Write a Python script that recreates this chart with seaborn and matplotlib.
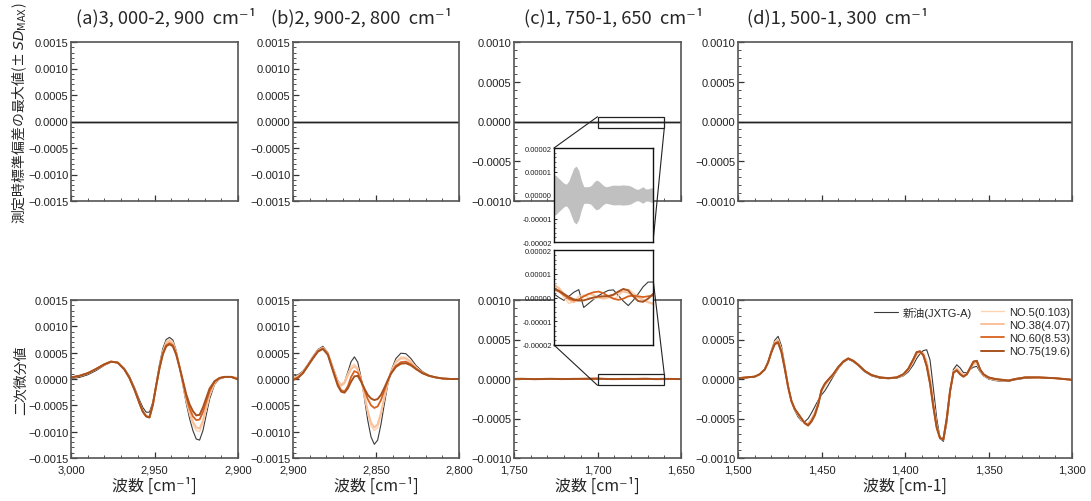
import numpy as np
import pandas as pd
import matplotlib
matplotlib.use("Agg")
import matplotlib.pyplot as plt
import seaborn as sns
from matplotlib.ticker import MultipleLocator, FuncFormatter, NullLocator
from matplotlib.patches import Rectangle, ConnectionPatch
from matplotlib.lines import Line2D

sns.set_theme(style="ticks")
plt.rcParams["font.family"] = ["Liberation Sans", "Noto Sans CJK JP", "DejaVu Sans"]
plt.rcParams["axes.unicode_minus"] = True
JP = ["Noto Sans CJK JP", "DejaVu Sans"]

# ---- series ----
SERIES = ["新油(JXTG-A)", "NO.5(0.103)", "NO.38(4.07)", "NO.60(8.53)", "NO.75(19.6)"]
COLORS = ["#3a3a3a", "#fdd3b2", "#f9c09a", "#d8621f", "#a8521f"]
WIDTHS = [0.8, 1.0, 1.4, 1.3, 1.4]

# ---- (a) 3,000-2,900 cm-1, second derivative x1e-4 ----
wn_a = [3000, 2995, 2990, 2985, 2980, 2976, 2972, 2968, 2965, 2962,
        2959, 2957, 2955, 2953, 2951, 2949, 2947, 2945, 2943, 2941,
        2939, 2937, 2935, 2933, 2931, 2929, 2927, 2925, 2923, 2921,
        2919, 2917, 2914, 2911, 2908, 2904, 2900]
a_new = [0.1, 0.3, 0.8, 1.6, 2.6, 3.2, 3.2, 2.0, 0.5, -1.6,
         -4.0, -5.4, -6.3, -6.3, -4.4, -0.9, 2.8, 5.8, 7.5, 7.9,
         7.4, 5.4, 2.3, -1.2, -4.6, -7.5, -9.8, -11.4, -11.6, -9.8,
         -6.8, -3.8, -1.0, 0.0, 0.3, 0.3, 0.1]
a_no5 = [0.25, 0.55, 1.05, 1.85, 2.75, 3.3, 3.1, 1.85, 0.25, -1.9,
         -4.5, -6.0, -6.9, -7.1, -4.9, -1.2, 2.3, 5.3, 7.1, 7.5,
         7.0, 5.2, 2.4, -0.9, -4.1, -6.7, -8.6, -9.8, -10.0, -8.4,
         -5.8, -3.2, -0.8, 0.1, 0.4, 0.4, 0.2]
a_no38 = [0.25, 0.55, 1.05, 1.85, 2.75, 3.3, 3.1, 1.85, 0.2, -1.95,
          -4.55, -6.1, -7.0, -7.2, -4.9, -1.2, 2.2, 5.1, 6.8, 7.2,
          6.7, 5.0, 2.3, -0.8, -3.9, -6.3, -8.1, -9.2, -9.4, -7.9,
          -5.4, -3.0, -0.7, 0.1, 0.4, 0.4, 0.2]
a_no60 = [0.3, 0.6, 1.1, 1.9, 2.8, 3.3, 3.1, 1.8, 0.2, -2.0,
          -4.6, -6.2, -7.1, -7.3, -4.9, -1.3, 2.1, 4.8, 6.4, 6.8,
          6.4, 4.8, 2.3, -0.5, -3.4, -5.6, -7.1, -7.8, -7.7, -6.3,
          -4.3, -2.3, -0.5, 0.2, 0.4, 0.4, 0.0]
a_no75 = [0.3, 0.6, 1.1, 1.9, 2.8, 3.3, 3.1, 1.8, 0.2, -2.0,
          -4.6, -6.2, -7.1, -7.3, -4.9, -1.3, 2.1, 4.7, 6.2, 6.6,
          6.2, 4.6, 2.2, -0.3, -2.9, -4.8, -6.1, -6.9, -6.8, -5.4,
          -3.6, -1.8, -0.4, 0.2, 0.4, 0.4, -0.1]

# ---- (b) 2,900-2,800 cm-1, x1e-4 ----
wn_b = [2900, 2897, 2894, 2891, 2888, 2885, 2882, 2879, 2876, 2873,
        2871, 2869, 2867, 2865, 2863, 2861, 2859, 2857, 2855, 2853,
        2851, 2849, 2847, 2845, 2843, 2841, 2838, 2835, 2832, 2829,
        2826, 2822, 2818, 2814, 2810, 2805, 2800]
b_new = [0.5, 0.8, 1.5, 2.8, 4.3, 5.6, 6.2, 5.0, 2.3, -0.3,
         -1.1, -0.6, 1.3, 3.3, 4.2, 3.2, 0.3, -3.6, -7.8, -11.0,
         -12.4, -11.6, -8.6, -4.8, -1.2, 1.5, 3.9, 4.9, 4.8, 3.9,
         2.6, 1.4, 0.7, 0.3, 0.1, 0.0, 0.0]
b_no5 = [0.3, 0.6, 1.4, 2.7, 4.2, 5.5, 6.0, 4.9, 2.2, -0.4,
         -1.0, -0.5, 1.0, 2.4, 2.8, 2.1, 0.0, -3.2, -6.5, -8.9,
         -9.8, -9.2, -6.8, -3.8, -0.9, 1.4, 3.4, 4.2, 4.1, 3.4,
         2.3, 1.2, 0.6, 0.3, 0.1, 0.0, 0.0]
b_no38 = [0.2, 0.5, 1.3, 2.6, 4.1, 5.4, 5.9, 4.8, 2.0, -0.6,
          -1.3, -0.8, 0.6, 1.9, 2.4, 1.8, -0.1, -3.0, -6.0, -8.3,
          -9.2, -8.6, -6.4, -3.5, -0.8, 1.3, 3.2, 3.9, 3.9, 3.2,
          2.2, 1.2, 0.6, 0.3, 0.1, 0.0, 0.0]
b_no60 = [-0.1, 0.3, 1.2, 2.6, 4.0, 5.3, 5.8, 4.7, 1.8, -1.0,
          -2.1, -2.4, -1.4, 0.4, 1.5, 1.2, -0.2, -2.0, -3.8, -5.0,
          -5.5, -5.2, -4.0, -2.2, -0.4, 1.1, 2.5, 3.2, 3.3, 2.8,
          2.0, 1.1, 0.6, 0.3, 0.1, 0.0, 0.0]
b_no75 = [-0.2, 0.2, 1.1, 2.5, 3.9, 5.2, 5.7, 4.6, 1.6, -1.3,
          -2.4, -2.6, -1.8, -0.5, 0.5, 0.6, -0.5, -1.8, -3.0, -3.7,
          -4.0, -3.8, -3.0, -1.7, -0.3, 1.0, 2.3, 2.9, 3.0, 2.6,
          1.9, 1.1, 0.6, 0.3, 0.1, 0.0, 0.0]

# ---- (c) 1,750-1,650 cm-1, x1e-6, every 2 cm-1 ----
wn_c = list(range(1750, 1648, -2))
c_new = [1, 2, 3, 3, 2, 0, -2, -3, -3, -1, 1, 2, 3, 2, 1, -1, -2, -2, -1, 0, 1, 2, 2, 2, 2,
         1.5, 0.0, -1.2, 0.5, 2.2, 3.3, -4.2, -2.5, -0.8, 0.8, 2.0, 3.0, 3.2, 0.8, -1.5,
         -3.4, -1.2, 1.5, 4.5, 6.5, 6.5,
         4, 1, -1, -2, -1]
c_no5 = [-2, -1, 0, 1, 2, 2, 1, 0, -1, -2, -2, -1, 0, 1, 2, 2, 1, 0, -1, -1, 0, 1, 2, 3, 5,
         6.5, 3.5, 0.0, -2.5, -1.5, 0.5, 1.0, 0.0, -0.5, 0.0, 0.5, 0.5, -0.5, 0.5, 3.0,
         3.5, 2.0, 0.5, -1.0, -2.0, -3.0,
         -3, -2, -1, 0, 1]
c_no38 = [-1, 0, 1, 2, 2, 1, 0, -1, -2, -2, -1, 0, 1, 2, 2, 1, 0, -1, -1, 0, 1, 2, 3, 4, 5,
          5.0, 4.0, 1.5, -1.0, -2.0, -1.0, 0.5, 1.5, 1.0, 0.0, -0.5, 0.0, 1.0, 2.0, 2.5,
          2.0, 1.0, 0.0, -1.0, -2.0, -2.5,
          -2, -1, 0, 1, 1]
c_no60 = [0, 1, 2, 2, 1, -1, -2, -2, -1, 0, 1, 2, 2, 1, 0, -1, -1, 0, 1, 1, 2, 2, 3, 3, 3,
          3.5, 2.5, 1.0, -0.5, -1.2, -0.8, 0.5, 1.5, 2.2, 2.5, 1.8, 0.5, -0.5, -1.0, -0.5,
          0.5, 0.8, 0.5, 0.2, 0.5, 0.8,
          1, 1, 0, -1, -1]
c_no75 = [1, 2, 2, 1, 0, -1, -2, -1, 0, 1, 2, 2, 1, 0, -1, -1, 0, 1, 2, 2, 2, 3, 3, 3, 4,
          3.8, 2.8, 1.5, 0.2, -0.8, -1.3, -1.2, -0.6, 0.0, 0.4, 0.5, 0.6, 1.2, 2.5, 3.6,
          3.0, 0.5, -1.5, -1.8, -0.5, 1.5,
          2, 1, 0, -1, -1]

# largest measurement SD, 1,700-1,660 cm-1, x1e-6
wn_sd = list(range(1700, 1659, -1))
sd_c = [8.7, 8.0, 7.0, 6.0, 5.0, 4.6, 6.0, 8.8, 11.5, 12.3,
        10.5, 6.5, 3.6, 3.5, 3.6, 4.0, 5.3, 6.3, 6.0, 5.0,
        4.0, 3.5, 3.7, 4.0, 4.2, 4.2, 4.1, 4.2, 4.3, 4.2,
        4.1, 3.8, 3.2, 2.6, 2.4, 3.0, 3.5, 2.6, 2.6, 3.0, 3.2]

# ---- (d) 1,500-1,300 cm-1, x1e-4 ----
wn_d = [1500, 1495, 1490, 1487, 1484, 1482, 1480, 1478, 1476, 1474,
        1472, 1470, 1468, 1466, 1464, 1462, 1460, 1458, 1456, 1454,
        1452, 1450, 1448, 1446, 1443, 1440, 1437, 1434, 1431, 1428,
        1424, 1420, 1415, 1410, 1405, 1401, 1398, 1395, 1393, 1391,
        1389, 1387, 1385, 1383, 1381, 1379, 1377, 1375, 1373, 1371,
        1369, 1367, 1365, 1363, 1361, 1359, 1357, 1355, 1353, 1350,
        1346, 1342, 1338, 1334, 1328, 1320, 1310, 1300]
d_new = [0.05, 0.15, 0.3, 0.6, 1.2, 2.1, 3.6, 4.9, 5.4, 4.2,
         1.8, -0.8, -2.8, -4.0, -4.8, -5.3, -5.4, -5.0, -4.3, -3.5,
         -2.7, -2.0, -1.5, -0.8, 0.3, 1.3, 2.1, 2.5, 2.2, 1.7,
         0.9, 0.4, 0.1, 0.05, 0.1, 0.4, 0.9, 1.8, 2.6, 3.2,
         3.6, 3.7, 2.4, -1.2, -5.0, -7.5, -7.9, -5.6, -1.8, 1.2,
         1.8, 1.4, 0.8, 0.8, 1.2, 1.5, 1.6, 0.9, 0.4, 0.0,
         -0.2, -0.3, -0.3, -0.1, 0.1, 0.2, 0.1, -0.1]
d_no5 = [0.1, 0.2, 0.3, 0.6, 1.2, 2.1, 3.5, 4.7, 5.0, 3.8,
         1.6, -0.9, -2.8, -3.9, -4.6, -5.2, -5.6, -5.6, -5.0, -4.2,
         -3.0, -1.6, -0.9, -0.3, 0.5, 1.4, 2.2, 2.6, 2.3, 1.8,
         1.0, 0.5, 0.2, 0.1, 0.2, 0.5, 1.1, 2.2, 3.0, 3.4,
         3.3, 2.4, 0.3, -2.8, -5.8, -7.5, -7.7, -5.2, -1.6, 1.0,
         1.4, 1.0, 0.5, 0.7, 1.3, 1.8, 1.9, 1.0, 0.5, 0.1,
         -0.1, -0.2, -0.2, 0.0, 0.2, 0.2, 0.1, -0.1]
d_no38 = [0.1, 0.2, 0.3, 0.6, 1.2, 2.1, 3.5, 4.6, 4.9, 3.7,
          1.5, -0.9, -2.8, -3.9, -4.5, -5.1, -5.6, -5.7, -5.1, -4.3,
          -3.1, -1.5, -0.8, -0.2, 0.5, 1.4, 2.2, 2.6, 2.3, 1.8,
          1.0, 0.5, 0.2, 0.1, 0.2, 0.5, 1.2, 2.3, 3.1, 3.4,
          3.2, 2.1, 0.0, -3.1, -6.0, -7.5, -7.6, -5.1, -1.5, 0.9,
          1.3, 0.8, 0.4, 0.6, 1.3, 2.0, 2.1, 1.1, 0.5, 0.1,
          -0.1, -0.2, -0.2, 0.0, 0.2, 0.2, 0.1, -0.1]
d_no60 = [0.1, 0.2, 0.3, 0.6, 1.2, 2.1, 3.4, 4.5, 4.7, 3.5,
          1.4, -1.0, -2.8, -3.8, -4.4, -5.0, -5.6, -5.8, -5.3, -4.5,
          -3.2, -1.4, -0.6, -0.1, 0.6, 1.5, 2.2, 2.6, 2.3, 1.8,
          1.0, 0.5, 0.2, 0.1, 0.2, 0.6, 1.3, 2.5, 3.4, 3.5,
          3.0, 1.7, -0.5, -3.5, -6.1, -7.5, -7.6, -5.0, -1.5, 0.8,
          1.1, 0.6, 0.3, 0.6, 1.4, 2.2, 2.3, 1.2, 0.6, 0.2,
          0.0, -0.1, -0.2, 0.0, 0.2, 0.2, 0.1, -0.1]
d_no75 = [0.1, 0.2, 0.3, 0.6, 1.2, 2.1, 3.4, 4.4, 4.6, 3.4,
          1.3, -1.0, -2.8, -3.8, -4.4, -5.0, -5.6, -5.9, -5.4, -4.6,
          -3.3, -1.4, -0.6, -0.1, 0.6, 1.5, 2.2, 2.6, 2.3, 1.8,
          1.0, 0.5, 0.2, 0.1, 0.2, 0.6, 1.3, 2.5, 3.4, 3.5,
          3.0, 1.6, -0.6, -3.6, -6.2, -7.5, -7.6, -5.0, -1.5, 0.8,
          1.1, 0.6, 0.3, 0.6, 1.4, 2.2, 2.3, 1.2, 0.6, 0.2,
          0.0, -0.1, -0.2, 0.0, 0.2, 0.2, 0.1, -0.1]

TITLES = ["(a)3, 000-2, 900  cm⁻¹", "(b)2, 900-2, 800  cm⁻¹",
          "(c)1, 750-1, 650  cm⁻¹", "(d)1, 500-1, 300  cm⁻¹"]
XLABELS = ["波数 [cm⁻¹]", "波数 [cm⁻¹]", "波数 [cm⁻¹]", "波数 [cm-1]"]
YLABEL_TOP = "測定時標準偏差の最大値(± $SD_{\\mathrm{MAX}}$)"
YLABEL_BOT = "二次微分値"

# ---- layout (pixels) ----
W, H = 1091, 502
fig = plt.figure(figsize=(W / 100, H / 100), dpi=100)


def box(x0, y0, x1, y1):
    return [x0 / W, 1 - y1 / H, (x1 - x0) / W, (y1 - y0) / H]


COLS = [(71, 238), (293, 459), (514, 681), (738, 1072)]
TOP_Y, BOT_Y = (43, 202), (301, 459)
XLIMS = [(3000, 2900), (2900, 2800), (1750, 1650), (1500, 1300)]
YLIMS = [0.0015, 0.0015, 0.0010, 0.0010]


def fmt_main(v, pos):
    v = 0.0 if abs(v) < 1e-12 else v
    return f"{v:.4f}".replace("-", "\u2212")


def fmt_x(v, pos):
    return f"{v:,.0f}"


def style(ax, xlim, ylim, xlabels):
    ax.set_xlim(*xlim)
    ax.set_ylim(-ylim, ylim)
    ax.xaxis.set_major_locator(MultipleLocator(50))
    ax.xaxis.set_minor_locator(MultipleLocator(10))
    ax.yaxis.set_major_locator(MultipleLocator(0.0005))
    ax.yaxis.set_minor_locator(MultipleLocator(0.0001))
    ax.yaxis.set_major_formatter(FuncFormatter(fmt_main))
    ax.xaxis.set_major_formatter(FuncFormatter(fmt_x))
    ax.tick_params(which="both", direction="in", top=False, right=False,
                   labelsize=8, labelcolor="#222222", color="#333333", pad=2)
    ax.tick_params(axis="x", pad=5)
    ax.tick_params(which="major", length=4, width=0.9)
    ax.tick_params(which="minor", length=2, width=0.6)
    if not xlabels:
        ax.tick_params(axis="x", labelbottom=False)
    for sp in ax.spines.values():
        sp.set_color("#555555")
        sp.set_linewidth(1.2)
    ax.set_xlabel("")
    ax.set_ylabel("")


def draw_series(ax, wn, series, scale):
    for vals, color, lw in zip(series, COLORS, WIDTHS):
        df = pd.DataFrame({"wn": wn, "d2": np.asarray(vals, float) * scale})
        sns.lineplot(data=df, x="wn", y="d2", ax=ax, color=color, linewidth=lw,
                     estimator=None, sort=False, legend=False)


PANELS = [
    (wn_a, [a_new, a_no5, a_no38, a_no60, a_no75], 1e-4),
    (wn_b, [b_new, b_no5, b_no38, b_no60, b_no75], 1e-4),
    (wn_c, [c_new, c_no5, c_no38, c_no60, c_no75], 1e-6),
    (wn_d, [d_new, d_no5, d_no38, d_no60, d_no75], 1e-4),
]

top_axes, bot_axes = [], []
for i, (x0, x1) in enumerate(COLS):
    axt = fig.add_axes(box(x0, TOP_Y[0], x1, TOP_Y[1]))
    if i == 2:
        sd = np.asarray(sd_c) * 1e-6
        axt.fill_between(wn_sd, -sd, sd, color="#bdbdbd", lw=0)
    axt.axhline(0, color="#a8a8a8", lw=2.0)
    axt.axhline(0, color="#222222", lw=0.8)
    style(axt, XLIMS[i], YLIMS[i], False)
    top_axes.append(axt)

    axb = fig.add_axes(box(x0, BOT_Y[0], x1, BOT_Y[1]))
    wn, series, scale = PANELS[i]
    draw_series(axb, wn, series, scale)
    style(axb, XLIMS[i], YLIMS[i], True)
    axb.set_xlabel(XLABELS[i], fontsize=11.5, family=JP, labelpad=1)
    bot_axes.append(axb)

# titles and shared y labels
for x, t in zip([76, 271, 524, 747], TITLES):
    fig.text(x / W, 1 - 18 / H, t, fontsize=13.2, family=JP, ha="left", va="center")
fig.text(19 / W, 1 - 113 / H, YLABEL_TOP, rotation=90, fontsize=10, family=JP,
         ha="center", va="center")
fig.text(21 / W, 1 - 380 / H, YLABEL_BOT, rotation=90, fontsize=10, family=JP,
         ha="center", va="center")

# legend in (d)
ax_d = bot_axes[3]
hs = [Line2D([], [], color=c, lw=w) for c, w in zip(COLORS, WIDTHS)]
leg_kw = dict(frameon=False, fontsize=8, handlelength=2.1, handletextpad=0.45,
              borderpad=0, borderaxespad=0, labelspacing=0.28, loc="upper right")
leg1 = ax_d.legend(hs[:1], SERIES[:1], bbox_to_anchor=(0.70, 0.955), **leg_kw)
ax_d.add_artist(leg1)
ax_d.legend(hs[1:], SERIES[1:], bbox_to_anchor=(0.995, 0.955), **leg_kw)


# ---- zoomed insets for (c) ----
def fmt_ins(v, pos):
    v = 0.0 if abs(v) < 1e-12 else v
    return f"{v:.5f}"


def style_inset(ax):
    ax.set_xlim(1700, 1660)
    ax.set_ylim(-0.00002, 0.00002)
    ax.xaxis.set_major_locator(NullLocator())
    ax.xaxis.set_minor_locator(NullLocator())
    ax.yaxis.set_major_locator(MultipleLocator(0.00001))
    ax.yaxis.set_minor_locator(MultipleLocator(0.000002))
    ax.yaxis.set_major_formatter(FuncFormatter(fmt_ins))
    ax.tick_params(which="both", direction="in", right=False, labelsize=5.5,
                   labelcolor="#222222", pad=1.5)
    ax.tick_params(which="major", length=2.5, width=0.7)
    ax.tick_params(which="minor", length=1.2, width=0.5)
    ax.set_facecolor("white")
    for sp in ax.spines.values():
        sp.set_color("#111111")
        sp.set_linewidth(1.0)
    ax.set_xlabel("")
    ax.set_ylabel("")


ins_top = fig.add_axes(box(554, 149, 653, 243), zorder=5)
sd = np.asarray(sd_c) * 1e-6
ins_top.fill_between(wn_sd, -sd, sd, color="#c0c0c0", lw=0)
style_inset(ins_top)

ins_bot = fig.add_axes(box(554, 251, 653, 346), zorder=5)
draw_series(ins_bot, wn_c, PANELS[2][1], 1e-6)
style_inset(ins_bot)

RECT_Y0, RECT_Y1 = -0.00008, 0.00006
for ax in (top_axes[2], bot_axes[2]):
    ax.add_patch(Rectangle((1700, RECT_Y0), -40, RECT_Y1 - RECT_Y0, fill=False,
                           ec="#222222", lw=0.9, zorder=6))

links = [
    (top_axes[2], (1700, RECT_Y1), ins_top, (0, 1)),
    (top_axes[2], (1660, RECT_Y0), ins_top, (1, 0)),
    (bot_axes[2], (1700, RECT_Y0), ins_bot, (0, 0)),
    (bot_axes[2], (1660, RECT_Y1), ins_bot, (1, 0.7)),
]
for ax, xy, ins, xyi in links:
    con = ConnectionPatch(xyA=xy, coordsA=ax.transData, xyB=xyi, coordsB=ins.transAxes,
                          color="#222222", lw=0.8)
    fig.add_artist(con)

fig.savefig("out.png", dpi=100)
